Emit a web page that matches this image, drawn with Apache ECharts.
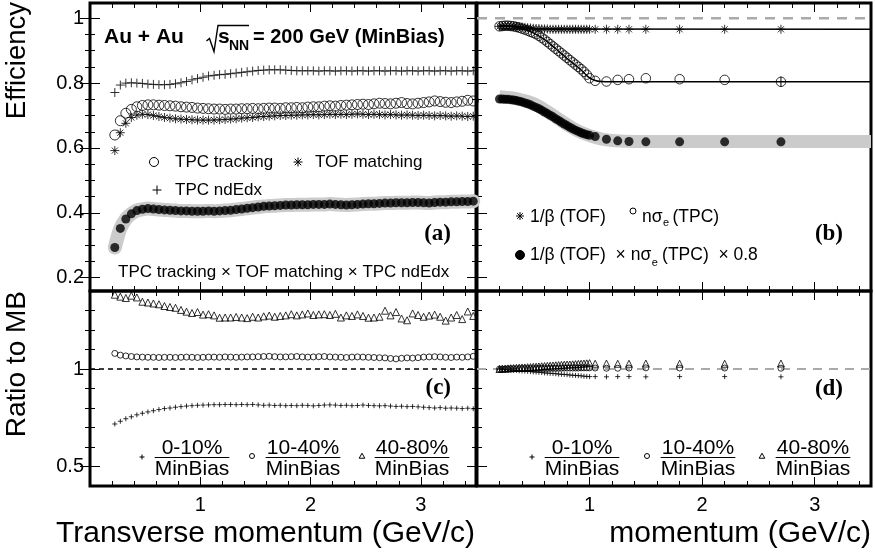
<!DOCTYPE html>
<html><head><meta charset="utf-8">
<script src="https://cdn.jsdelivr.net/npm/echarts@6/dist/echarts.min.js"></script>
<style>html,body{margin:0;padding:0;background:#fff}#c{width:875px;height:559px}</style>
</head><body><div id="c"></div>
<script>
// ---------------- DATA ----------------
// panel (a)/(c): transverse momentum bins (GeV/c)
const ptBins = [0.225,0.275,0.325,0.375,0.425,0.475,0.525,0.575,0.625,0.675,0.725,0.775,0.825,0.875,0.925,0.975,1.025,1.075,1.125,1.175,1.225,1.275,1.325,1.375,1.425,1.475,1.525,1.575,1.625,1.675,1.725,1.775,1.825,1.875,1.925,1.975,2.025,2.075,2.125,2.175,2.225,2.275,2.325,2.375,2.425,2.475,2.525,2.575,2.625,2.675,2.725,2.775,2.825,2.875,2.925,2.975,3.025,3.075,3.125,3.175,3.225,3.275,3.325,3.375,3.425,3.475];
const effTpcTracking = [0.640,0.684,0.707,0.719,0.727,0.731,0.733,0.733,0.732,0.731,0.730,0.729,0.727,0.726,0.725,0.723,0.722,0.721,0.720,0.720,0.719,0.720,0.720,0.721,0.721,0.722,0.721,0.722,0.723,0.723,0.722,0.724,0.724,0.725,0.724,0.726,0.727,0.727,0.729,0.730,0.729,0.731,0.732,0.733,0.734,0.735,0.734,0.736,0.738,0.737,0.736,0.738,0.740,0.737,0.736,0.738,0.740,0.742,0.745,0.743,0.741,0.740,0.742,0.744,0.747,0.745];
const effTofMatching = [0.592,0.647,0.676,0.694,0.701,0.704,0.703,0.700,0.697,0.694,0.692,0.690,0.689,0.688,0.687,0.686,0.686,0.686,0.686,0.687,0.688,0.689,0.690,0.692,0.693,0.694,0.696,0.697,0.698,0.699,0.700,0.700,0.701,0.701,0.702,0.702,0.703,0.702,0.703,0.704,0.703,0.704,0.703,0.704,0.705,0.704,0.703,0.704,0.703,0.702,0.703,0.702,0.701,0.702,0.701,0.700,0.701,0.700,0.699,0.700,0.699,0.698,0.699,0.698,0.697,0.698];
const effTpcNdEdx = [0.771,0.794,0.800,0.801,0.800,0.799,0.797,0.796,0.795,0.795,0.796,0.798,0.801,0.805,0.810,0.814,0.818,0.822,0.824,0.826,0.827,0.829,0.831,0.833,0.835,0.837,0.839,0.840,0.841,0.841,0.841,0.840,0.839,0.838,0.838,0.838,0.838,0.837,0.838,0.838,0.837,0.838,0.838,0.837,0.838,0.838,0.837,0.838,0.838,0.837,0.838,0.838,0.837,0.838,0.838,0.837,0.838,0.838,0.837,0.838,0.838,0.837,0.838,0.838,0.837,0.838];
const effCombined = [0.293,0.352,0.381,0.397,0.407,0.411,0.413,0.412,0.410,0.409,0.408,0.407,0.406,0.406,0.405,0.405,0.405,0.406,0.405,0.406,0.407,0.408,0.410,0.412,0.414,0.416,0.418,0.420,0.421,0.422,0.423,0.424,0.424,0.425,0.425,0.425,0.426,0.426,0.426,0.427,0.426,0.425,0.424,0.425,0.426,0.427,0.428,0.428,0.429,0.430,0.430,0.431,0.431,0.431,0.432,0.432,0.431,0.430,0.432,0.433,0.433,0.434,0.434,0.435,0.435,0.436];
const ratioPt0010 = [0.718,0.732,0.745,0.755,0.765,0.773,0.780,0.786,0.792,0.797,0.800,0.804,0.807,0.810,0.812,0.814,0.815,0.816,0.817,0.817,0.818,0.818,0.817,0.818,0.817,0.818,0.816,0.814,0.815,0.813,0.814,0.812,0.813,0.812,0.814,0.813,0.811,0.813,0.815,0.816,0.815,0.813,0.814,0.812,0.813,0.815,0.813,0.812,0.811,0.812,0.810,0.808,0.809,0.807,0.808,0.806,0.804,0.802,0.800,0.802,0.799,0.800,0.799,0.797,0.799,0.796];
const ratioPt1040 = [1.080,1.071,1.067,1.064,1.062,1.061,1.060,1.060,1.059,1.060,1.060,1.059,1.060,1.061,1.060,1.059,1.060,1.061,1.061,1.060,1.062,1.061,1.060,1.061,1.062,1.062,1.063,1.064,1.065,1.063,1.062,1.062,1.063,1.064,1.062,1.061,1.062,1.063,1.064,1.062,1.061,1.060,1.059,1.061,1.062,1.061,1.060,1.059,1.058,1.057,1.054,1.052,1.055,1.057,1.056,1.058,1.061,1.062,1.063,1.062,1.060,1.059,1.061,1.060,1.062,1.065];
const ratioPt4080 = [1.381,1.371,1.364,1.376,1.367,1.345,1.341,1.336,1.332,1.323,1.318,1.314,1.303,1.294,1.287,1.292,1.279,1.281,1.275,1.263,1.264,1.264,1.267,1.264,1.261,1.268,1.264,1.270,1.274,1.268,1.272,1.275,1.281,1.275,1.280,1.285,1.277,1.280,1.281,1.277,1.283,1.264,1.275,1.272,1.280,1.272,1.263,1.264,1.268,1.299,1.275,1.292,1.259,1.250,1.285,1.277,1.268,1.274,1.279,1.268,1.248,1.264,1.277,1.256,1.295,1.272];

// panel (b)/(d): momentum points (GeV/c)
const pBins = [0.2,0.225,0.25,0.275,0.3,0.325,0.35,0.375,0.4,0.425,0.45,0.475,0.5,0.525,0.55,0.575,0.6,0.625,0.65,0.675,0.7,0.725,0.75,0.775,0.8,0.825,0.85,0.875,0.9,0.925,0.95,0.975,1.0,1.05,1.15,1.25,1.35,1.5,1.8,2.2,2.7];
const effTof = [0.975,0.975,0.976,0.976,0.976,0.975,0.975,0.974,0.973,0.972,0.971,0.970,0.969,0.968,0.968,0.967,0.967,0.967,0.966,0.966,0.966,0.966,0.966,0.966,0.966,0.966,0.966,0.966,0.966,0.966,0.966,0.966,0.966,0.966,0.966,0.966,0.966,0.966,0.966,0.966,0.966];
const effTpcNsig = [0.975,0.976,0.977,0.977,0.976,0.975,0.973,0.971,0.968,0.965,0.962,0.958,0.955,0.951,0.946,0.940,0.934,0.927,0.920,0.913,0.906,0.899,0.892,0.885,0.878,0.871,0.864,0.857,0.850,0.843,0.835,0.826,0.815,0.807,0.805,0.810,0.812,0.815,0.812,0.810,0.804];
const effTpcNsigErr = [0,0,0,0,0,0,0,0,0,0,0,0,0,0,0,0,0,0,0,0,0,0,0,0,0,0,0,0,0,0,0,0,0,0,0,0,0,0,0,0,0.016];
const effPidScaled = [0.751,0.751,0.750,0.750,0.749,0.748,0.746,0.744,0.742,0.739,0.736,0.733,0.729,0.725,0.721,0.716,0.711,0.706,0.701,0.696,0.690,0.685,0.679,0.674,0.669,0.664,0.659,0.655,0.651,0.647,0.644,0.641,0.639,0.635,0.627,0.622,0.620,0.619,0.619,0.619,0.619];
const fitTofP = [0.2, 3.5];
const fitTofV = [0.967, 0.966];
const fitTpcP = [0.2,0.3,0.4,0.5,0.6,0.7,0.8,0.9,0.95,1.0,1.05,1.1,1.2,1.5,3.5];
const fitTpcV = [0.977,0.975,0.968,0.955,0.934,0.906,0.876,0.848,0.832,0.816,0.808,0.805,0.804,0.804,0.804];
const bandPidP = [0.2,0.3,0.4,0.5,0.6,0.7,0.8,0.9,1.0,1.1,1.2,1.4,3.5];
const bandPidV = [0.758,0.755,0.748,0.737,0.718,0.695,0.672,0.652,0.638,0.628,0.623,0.620,0.620];
const ratioP0010 = [1.000,0.999,0.998,0.996,0.995,0.994,0.993,0.991,0.990,0.989,0.988,0.987,0.985,0.984,0.983,0.982,0.980,0.979,0.978,0.977,0.976,0.974,0.973,0.972,0.971,0.969,0.968,0.967,0.966,0.965,0.963,0.962,0.961,0.961,0.960,0.961,0.961,0.960,0.961,0.961,0.960];
const ratioP1040 = [1.000,1.000,1.000,1.001,1.001,1.001,1.001,1.001,1.002,1.002,1.002,1.002,1.002,1.003,1.003,1.003,1.003,1.003,1.004,1.004,1.004,1.004,1.004,1.005,1.005,1.005,1.005,1.005,1.005,1.006,1.006,1.006,1.006,1.005,1.004,1.004,1.005,1.006,1.005,1.005,1.004];
const ratioP4080 = [1.000,1.001,1.002,1.003,1.004,1.005,1.006,1.007,1.008,1.008,1.009,1.010,1.011,1.012,1.013,1.014,1.015,1.016,1.017,1.018,1.019,1.020,1.021,1.022,1.023,1.023,1.024,1.025,1.026,1.027,1.028,1.029,1.030,1.027,1.028,1.027,1.027,1.028,1.027,1.027,1.028];

// tick labels
const xTickLabels = [1, 2, 3];
const effTickLabels = [0.2, 0.4, 0.6, 0.8, 1];
const ratioTickLabels = [0.5, 1];

// ---------------- LAYOUT ----------------
const FONT = '"Liberation Sans", Arial, Helvetica, sans-serif';
const SERIF = '"Liberation Serif", "Times New Roman", serif';
const X_RANGE = [0, 3.5];
const EFF_RANGE = [0.159, 1.047];
const RATIO_RANGE = [0.4, 1.4];

const grids = [
  {left: 90, top: 3, width: 386, height: 288},    // (a)
  {left: 477, top: 3, width: 394, height: 288},   // (b)
  {left: 90, top: 291, width: 386, height: 195},  // (c)
  {left: 477, top: 291, width: 394, height: 195}  // (d)
].map(g => Object.assign(g, {show: true, borderColor: '#000', borderWidth: 3, backgroundColor: 'transparent'}));

function steps(a, b, s) { const r = []; for (let v = a; v <= b + 1e-9; v += s) r.push(Math.round(v * 1000) / 1000); return r; }
const xMinor = steps(0.2, 3.4, 0.2);
const xMajor = [1, 2, 3];
const effMinor = steps(0.2, 1.0, 0.05);
const effMajor = [0.2, 0.4, 0.6, 0.8, 1.0];
const ratioMinor = steps(0.5, 1.3, 0.1);
const ratioMajor = [0.5, 1.0];

const xAxes = [], yAxes = [];
const mainX = [], mainY = [];
function axisCommon(ticks, len) {
  return {axisLine: {show: false}, splitLine: {show: false},
    axisTick: {show: true, inside: true, length: len, customValues: ticks, lineStyle: {color: '#000', width: 1}}};
}
function addX(gi, pos, ticks, len, labels) {
  const a = Object.assign({type: 'value', gridIndex: gi, position: pos, min: X_RANGE[0], max: X_RANGE[1]}, axisCommon(ticks, len));
  a.axisLabel = labels ? {show: true, customValues: labels, margin: 9, fontSize: 20, fontFamily: FONT, color: '#000'} : {show: false};
  xAxes.push(a); return xAxes.length - 1;
}
function addY(gi, pos, range, ticks, len, labels) {
  const a = Object.assign({type: 'value', gridIndex: gi, position: pos, min: range[0], max: range[1]}, axisCommon(ticks, len));
  a.axisLabel = labels ? {show: true, customValues: labels, margin: 6, fontSize: 20, fontFamily: FONT, color: '#000'} : {show: false};
  yAxes.push(a); return yAxes.length - 1;
}
for (let gi = 0; gi < 4; gi++) {
  const lower = gi >= 2;
  mainX[gi] = addX(gi, 'bottom', xMajor, 9, lower ? xTickLabels : null);
  addX(gi, 'bottom', xMinor, 5, null);
  addX(gi, 'top', xMajor, 9, null);
  addX(gi, 'top', xMinor, 5, null);
  const rng = lower ? RATIO_RANGE : EFF_RANGE;
  const maj = lower ? ratioMajor : effMajor;
  const min = lower ? ratioMinor : effMinor;
  const lbl = (gi === 0) ? effTickLabels : (gi === 2 ? ratioTickLabels : null);
  mainY[gi] = addY(gi, 'left', rng, maj, 10, lbl);
  addY(gi, 'left', rng, min, 5, null);
  addY(gi, 'right', rng, maj, 10, null);
  addY(gi, 'right', rng, min, 5, null);
}

// ---------------- SERIES ----------------
const pairs = (xs, ys) => xs.map((x, i) => [x, ys[i]]);
const STAR = 'path://M5,0L5,10M0,5L10,5M1.6,1.6L8.4,8.4M1.6,8.4L8.4,1.6';
const PLUS = 'path://M5,0L5,10M0,5L10,5';
const openStyle = {color: 'rgba(0,0,0,0)', borderColor: '#000', borderWidth: 1};
function scatter(gi, data, symbol, size, style) {
  return {type: 'scatter', xAxisIndex: mainX[gi], yAxisIndex: mainY[gi], data, symbol, symbolSize: size,
    itemStyle: style, silent: true, z: 5};
}
function line(gi, data, ls, z, smooth) {
  return {type: 'line', xAxisIndex: mainX[gi], yAxisIndex: mainY[gi], data, showSymbol: false, symbol: 'none',
    lineStyle: ls, smooth: smooth || false, silent: true, z: z || 3};
}
function errBars(gi, xs, ys, es) {
  return {type: 'custom', xAxisIndex: mainX[gi], yAxisIndex: mainY[gi], silent: true, z: 4,
    data: xs.map((x, i) => [x, ys[i], es[i]]).filter(d => d[2] > 0),
    renderItem: (params, api) => {
      const x = api.value(0), y = api.value(1), e = api.value(2);
      const a = api.coord([x, y - e]), b = api.coord([x, y + e]);
      return {type: 'line', shape: {x1: a[0], y1: a[1], x2: b[0], y2: b[1]}, style: {stroke: '#000', lineWidth: 1}};
    }};
}
const series = [
  // (a)
  line(0, pairs(ptBins, effCombined), {color: '#cbcbcb', width: 14, cap: 'round', join: 'round'}, 2, 0.3),
  scatter(0, pairs(ptBins, effTpcNdEdx), PLUS, 9, openStyle),
  scatter(0, pairs(ptBins, effTpcTracking), 'circle', 10, openStyle),
  scatter(0, pairs(ptBins, effTofMatching), STAR, 9, openStyle),
  scatter(0, pairs(ptBins, effCombined), 'circle', 9, {color: '#000'}),
  // (b)
  line(1, [[0, 1], [3.5, 1]], {color: '#aaaaaa', width: 2.5, type: [10, 8]}, 2),
  line(1, pairs(bandPidP, bandPidV), {color: '#cbcbcb', width: 13, cap: 'butt', join: 'round'}, 2, 0.4),
  line(1, pairs(fitTofP, fitTofV), {color: '#000', width: 1.5}, 3),
  line(1, pairs(fitTpcP, fitTpcV), {color: '#000', width: 1.5}, 3, 0.4),
  errBars(1, pBins, effTpcNsig, effTpcNsigErr),
  scatter(1, pairs(pBins, effTof), STAR, 9, openStyle),
  scatter(1, pairs(pBins, effTpcNsig), 'circle', 9.5, openStyle),
  scatter(1, pairs(pBins, effPidScaled), 'circle', 9, {color: '#000'}),
  // (c)
  line(2, [[0, 1], [3.5, 1]], {color: '#000', width: 1.5, type: [5, 4]}, 2),
  scatter(2, pairs(ptBins, ratioPt0010), PLUS, 5, openStyle),
  scatter(2, pairs(ptBins, ratioPt1040), 'circle', 6, openStyle),
  scatter(2, pairs(ptBins, ratioPt4080), 'triangle', 7, openStyle),
  // (d)
  line(3, [[0, 1], [3.5, 1]], {color: '#aaaaaa', width: 2, type: [9, 7]}, 2),
  scatter(3, pairs(pBins, ratioP0010), PLUS, 5, openStyle),
  scatter(3, pairs(pBins, ratioP1040), 'circle', 6, openStyle),
  scatter(3, pairs(pBins, ratioP4080), 'triangle', 7, openStyle)
];

// ---------------- TEXT / LEGENDS ----------------
const mctx = document.createElement('canvas').getContext('2d');
function tw(text, font) { mctx.font = font; return mctx.measureText(text).width; }
const f = (s, b) => (b ? 'bold ' : '') + s + 'px ' + FONT;
function T(x, y, text, font, align, vAlign, rot) {
  return {type: 'text', x, y, rotation: rot || 0, silent: true, z: 10,
    style: {text, font, fill: '#000', textAlign: align || 'left', textVerticalAlign: vAlign || 'middle',
      align: align || 'left', verticalAlign: vAlign || 'middle'}};
}
function L(x1, y1, x2, y2, w, c) {
  return {type: 'line', silent: true, z: 10, shape: {x1, y1, x2, y2}, style: {stroke: c || '#000', lineWidth: w || 1}};
}
function circ(cx, cy, r, filled) {
  return {type: 'circle', silent: true, z: 10, shape: {cx, cy, r}, style: {fill: filled ? '#000' : 'rgba(0,0,0,0)', stroke: '#000', lineWidth: 1}};
}
function star(cx, cy, r) {
  const d = r * 0.72;
  return [L(cx, cy - r, cx, cy + r), L(cx - r, cy, cx + r, cy), L(cx - d, cy - d, cx + d, cy + d), L(cx - d, cy + d, cx + d, cy - d)];
}
function plus(cx, cy, r) { return [L(cx, cy - r, cx, cy + r), L(cx - r, cy, cx + r, cy)]; }
function tri(cx, cy, r) {
  return {type: 'polygon', silent: true, z: 10, shape: {points: [[cx, cy - r], [cx + r, cy + r * 0.8], [cx - r, cy + r * 0.8]]},
    style: {fill: 'rgba(0,0,0,0)', stroke: '#000', lineWidth: 1}};
}
const FR = 21;
function frac(cx, num, den) {
  const w = tw(den, f(FR));
  return [T(cx, 448, num, f(FR), 'center'), L(cx - w / 2, 457.5, cx + w / 2, 457.5, 1.2), T(cx, 469, den, f(FR), 'center')];
}

const g = [];
// axis titles
g.push(T(17, 2, 'Efficiency', f(27.5), 'right', 'middle', Math.PI / 2));
g.push(T(17, 291, 'Ratio to MB', f(28), 'right', 'middle', Math.PI / 2));
g.push(T(475, 534, 'Transverse momentum (GeV/c)', f(30), 'right'));
g.push(T(871, 534, 'momentum (GeV/c)', f(30), 'right'));

// panel (a) header
g.push(T(104, 37, 'Au + Au', f(21, true)));
g.push({type: 'polyline', silent: true, z: 10, shape: {points: [[206.5, 41], [209.5, 38.5], [214, 51.5], [218, 25.5], [249, 25.5]]},
  style: {stroke: '#000', lineWidth: 1.4, fill: null}});
g.push(T(218, 37, 's', f(21, true)));
g.push(T(229, 46, 'NN', f(14, true)));
g.push(T(253, 37, '= 200 GeV (MinBias)', f(20, true)));
// panel (a) legend
g.push(circ(154, 162, 4.5, false));
g.push(T(175, 162, 'TPC tracking', f(17)));
g.push(...star(298, 162, 4.5));
g.push(T(315, 162, 'TOF matching', f(17)));
g.push(...plus(157, 190, 4.5));
g.push(T(175, 190, 'TPC ndEdx', f(17)));
g.push(T(118, 272, 'TPC tracking \u00d7 TOF matching \u00d7 TPC ndEdx', f(17)));
g.push(T(451, 234, '(a)', 'bold 23px ' + SERIF, 'right'));

// panel (b) legend
g.push(...star(520, 216, 4));
g.push(T(530, 217, '1/\u03b2 (TOF)', f(17.5)));
g.push(circ(633, 211, 3, false));
(function () {
  const x0 = 642, w1 = tw('n\u03c3', f(17.5));
  g.push(T(x0, 217, 'n\u03c3', f(17.5)));
  g.push(T(x0 + w1 + 0.5, 223, 'e', f(11)));
  g.push(T(x0 + w1 + 10, 217, '(TPC)', f(17.5)));
  const s1 = '1/\u03b2 (TOF)  \u00d7 n\u03c3', w2 = tw(s1, f(17.5));
  g.push(circ(520, 255, 4.5, true));
  g.push(T(530, 255, s1, f(17.5)));
  g.push(T(530 + w2 + 0.5, 263, 'e', f(11)));
  g.push(T(530 + w2 + 6, 255, ' (TPC)  \u00d7 0.8', f(17.5)));
})();
g.push(T(843, 234, '(b)', 'bold 23px ' + SERIF, 'right'));

// panel (c) legend
g.push(T(451, 388, '(c)', 'bold 23px ' + SERIF, 'right'));
g.push(...plus(142, 457, 2.5));
g.push(...frac(192, '0-10%', 'MinBias'));
g.push(circ(252, 456, 2.5, false));
g.push(...frac(303, '10-40%', 'MinBias'));
g.push(tri(362, 456, 2.8));
g.push(...frac(412, '40-80%', 'MinBias'));
// panel (d) legend
g.push(T(843, 389, '(d)', 'bold 23px ' + SERIF, 'right'));
g.push(...plus(532, 457, 2.5));
g.push(...frac(582, '0-10%', 'MinBias'));
g.push(circ(647, 456, 2.5, false));
g.push(...frac(698, '10-40%', 'MinBias'));
g.push(tri(762, 456, 2.8));
g.push(...frac(813, '40-80%', 'MinBias'));

const chart = echarts.init(document.getElementById('c'), null, {renderer: 'canvas'});
chart.setOption({
  animation: false,
  backgroundColor: '#fff',
  grid: grids,
  xAxis: xAxes,
  yAxis: yAxes,
  series,
  graphic: {elements: g}
});
</script>
</body></html>
